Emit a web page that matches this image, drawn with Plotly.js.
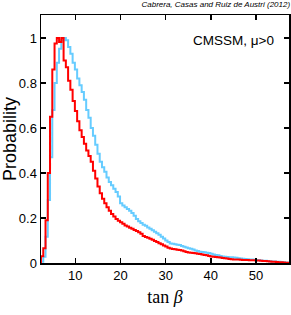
<!DOCTYPE html>
<html>
<head>
<meta charset="utf-8">
<script src="https://cdn.plot.ly/plotly-3.0.1.min.js"></script>
<style>html,body{margin:0;padding:0;background:#fff;}#chart{width:291px;height:315px;}</style>
</head>
<body>
<div id="chart"></div>
<script>
// Histogram bins of tan(beta)
const binStart = 2.4;
const binWidth = 0.5;

// Red series (probability per bin)
const redProb = [
0.03,0.065,0.19,0.40,0.65,0.86,0.975,1.0,0.982,1.0,
0.90,0.87,0.81,0.77,0.72,0.675,0.63,0.59,0.56,0.53,
0.50,0.475,0.45,0.41,0.375,0.34,0.31,0.285,0.265,0.248,
0.232,0.218,0.207,0.196,0.188,0.181,0.174,0.167,0.162,0.157,
0.152,0.147,0.142,0.137,0.13,0.12,0.116,0.112,0.108,0.103,
0.098,0.093,0.088,0.083,0.078,0.073,0.068,0.064,0.062,0.061,
0.059,0.058,0.055,0.052,0.049,0.047,0.045,0.044,0.043,0.041,
0.040,0.038,0.036,0.034,0.031,0.029,0.028,0.027,0.025,0.024,
0.022,0.021,0.020,0.018,0.017,0.016,0.016,0.015,0.014,0.013,
0.013,0.013,0.012,0.012,0.012,0.011,0.011,0.010,0.009,0.009,
0.008,0.007,0.006,0.005,0.004,0.003,0.003,0.002,0.001,0.001
];

// Light-blue series (probability per bin)
const blueProb = [
0.005,0.028,0.117,0.28,0.47,0.68,0.80,0.89,0.952,0.99,
1.0,0.99,0.96,0.93,0.89,0.86,0.82,0.79,0.76,0.725,
0.68,0.645,0.60,0.565,0.525,0.485,0.45,0.425,0.405,0.38,
0.36,0.345,0.33,0.315,0.295,0.265,0.255,0.248,0.24,0.232,
0.222,0.21,0.195,0.186,0.178,0.17,0.165,0.158,0.152,0.145,
0.139,0.132,0.125,0.117,0.109,0.10,0.093,0.087,0.085,0.083,
0.081,0.08,0.076,0.072,0.069,0.066,0.063,0.06,0.056,0.053,
0.05,0.049,0.048,0.046,0.044,0.041,0.038,0.036,0.034,0.031,
0.029,0.028,0.027,0.026,0.025,0.024,0.023,0.021,0.02,0.019,
0.018,0.017,0.016,0.015,0.014,0.013,0.012,0.011,0.010,0.010,
0.009,0.008,0.007,0.007,0.006,0.005,0.004,0.003,0.002,0.001
];

const xTickVals = [10, 20, 30, 40, 50];
const xTickText = ['10', '20', '30', '40', '50'];
const yTickVals = [0, 0.2, 0.4, 0.6, 0.8, 1];
const yTickText = ['0', '0.2', '0.4', '0.6', '0.8', '1'];

function stepXY(vals) {
  const xs = [binStart], ys = [0];
  for (let i = 0; i < vals.length; i++) {
    xs.push(binStart + i * binWidth);
    ys.push(vals[i]);
  }
  xs.push(binStart + vals.length * binWidth);
  ys.push(vals[vals.length - 1]);
  return {xs, ys};
}

const b = stepXY(blueProb);
const r = stepXY(redProb);

const traces = [
  {x: b.xs, y: b.ys, type: 'scatter', mode: 'lines', line: {shape: 'hv', color: 'rgb(102,204,255)', width: 2}, hoverinfo: 'skip'},
  {x: r.xs, y: r.ys, type: 'scatter', mode: 'lines', line: {shape: 'hv', color: 'rgb(255,0,0)', width: 2}, hoverinfo: 'skip'}
];

const axisCommon = {
  showgrid: false, zeroline: false, showline: true, linecolor: '#000', linewidth: 1.5,
  mirror: 'ticks', ticks: 'inside', ticklen: 5, tickwidth: 1.5, tickcolor: '#000',
  tickfont: {family: 'Liberation Sans, Arial, sans-serif', size: 13, color: '#000'}
};

const layout = {
  width: 291, height: 315,
  margin: {l: 41, r: 2, t: 15, b: 52, pad: 0},
  paper_bgcolor: '#fff', plot_bgcolor: '#fff',
  showlegend: false,
  title: {
    text: '<i>Cabrera, Casas and Ruiz de Austri (2012)</i>',
    x: 0.997, xanchor: 'right', y: 0.995, yanchor: 'top',
    font: {family: 'Liberation Sans, Arial, sans-serif', size: 8, color: '#000'}
  },
  xaxis: Object.assign({}, axisCommon, {
    range: [2.4, 57.3], tickmode: 'array', tickvals: xTickVals, ticktext: xTickText,
    title: {text: 'tan <i>β</i>', font: {family: 'Liberation Serif, DejaVu Serif, serif', size: 18, color: '#000'}, standoff: 8}
  }),
  yaxis: Object.assign({}, axisCommon, {
    range: [0, 1.102], tickmode: 'array', tickvals: yTickVals, ticktext: yTickText,
    title: {text: 'Probability', font: {family: 'Liberation Sans, Arial, sans-serif', size: 18, color: '#000'}, standoff: 5}
  }),
  annotations: [{
    text: 'CMSSM, μ>0', xref: 'paper', yref: 'paper', x: 0.949, y: 0.896,
    xanchor: 'right', yanchor: 'middle', showarrow: false,
    font: {family: 'Liberation Sans, Arial, sans-serif', size: 13.5, color: '#000'}
  }]
};

Plotly.newPlot('chart', traces, layout, {staticPlot: true, displayModeBar: false});
</script>
</body>
</html>
